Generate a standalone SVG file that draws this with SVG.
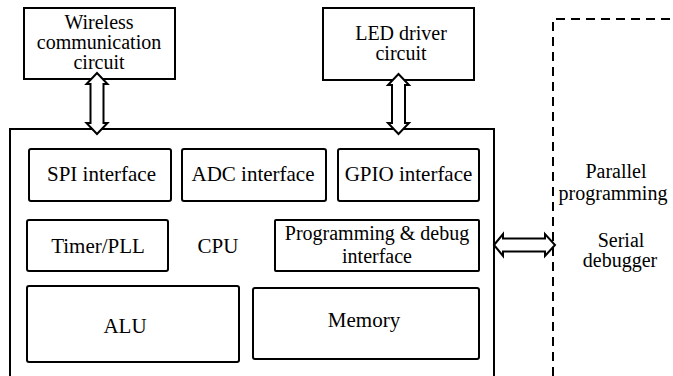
<svg xmlns="http://www.w3.org/2000/svg" width="673" height="376" viewBox="0 0 673 376">
  <style>
    .box { fill: #fff; stroke: #000; stroke-width: 2; }
    .inner { fill: #fff; stroke: #000; stroke-width: 2; }
    .txt { font-size: 21px; fill: #000; text-anchor: middle; }
    .ml { font-size: 20px; }
    .arrow { fill: #fff; stroke: #000; stroke-width: 2; stroke-linejoin: miter; }
    .dash { fill: none; stroke: #000; stroke-width: 2; stroke-dasharray: 9 6; }
  </style>
  <rect width="673" height="376" fill="#fff"/>

  <!-- external board boundary (dashed) -->
  <g id="programmer-boundary">
    <path class="dash" d="M553,376 L553,19 L673,19"/>
  </g>

  <g font-family="Liberation Serif, Times New Roman, Tinos, Noto Serif, DejaVu Serif, serif">
  <g id="cpu-chip">
    <rect class="box" x="10" y="129" width="484" height="260"/>
    <text class="txt" x="218" y="253">CPU</text>
  </g>

  <g id="wireless">
    <rect class="box" x="24" y="8" width="151" height="71"/>
    <text class="txt ml" x="99" y="29">Wireless</text>
    <text class="txt ml" x="99" y="49">communication</text>
    <text class="txt ml" x="99" y="69">circuit</text>
  </g>

  <g id="led-driver">
    <rect class="box" x="323" y="8" width="151" height="72"/>
    <text class="txt ml" x="401" y="39.5">LED driver</text>
    <text class="txt ml" x="401" y="59.5">circuit</text>
  </g>

  <g id="spi">
    <rect class="inner" x="29" y="149" width="142" height="52" rx="2"/>
    <text class="txt" x="101.5" y="181">SPI interface</text>
  </g>

  <g id="adc">
    <rect class="inner" x="182" y="149" width="144" height="52" rx="2"/>
    <text class="txt" x="253" y="181">ADC interface</text>
  </g>

  <g id="gpio">
    <rect class="inner" x="338" y="149" width="141" height="52" rx="2"/>
    <text class="txt" x="408.5" y="181">GPIO interface</text>
  </g>

  <g id="timer-pll">
    <rect class="inner" x="27" y="220" width="141" height="51" rx="2"/>
    <text class="txt" x="98" y="253">Timer/PLL</text>
  </g>

  <g id="prog-debug">
    <rect class="inner" x="275" y="220" width="204" height="51" rx="1"/>
    <text class="txt ml" x="377" y="240">Programming &amp; debug</text>
    <text class="txt ml" x="377" y="263">interface</text>
  </g>

  <g id="alu">
    <rect class="inner" x="27" y="286" width="212" height="76" rx="2"/>
    <text class="txt" x="125" y="333">ALU</text>
  </g>

  <g id="memory">
    <rect class="inner" x="253" y="288" width="226" height="71" rx="2"/>
    <text class="txt" x="364" y="327">Memory</text>
  </g>

  <g id="programmer-labels">
    <text class="txt ml" x="616" y="178">Parallel</text>
    <text class="txt ml" x="613" y="200">programming</text>
    <text class="txt ml" x="621" y="246.5">Serial</text>
    <text class="txt ml" x="620" y="266.5">debugger</text>
  </g>
  </g>

  <!-- bidirectional bus arrows -->
  <g id="connectors">
    <path class="arrow" d="M97,73 L107.5,84 L103.5,84 L103.5,123 L107.5,123 L97,134 L86.5,123 L90.5,123 L90.5,84 L86.5,84 Z"/>
    <path class="arrow" d="M398.5,74 L409,85 L405,85 L405,123 L409,123 L398.5,134 L388,123 L392,123 L392,85 L388,85 Z"/>
    <path class="arrow" d="M494,245 L503,234 L503,238.5 L545,238.5 L545,234 L555,245 L545,256 L545,251.5 L503,251.5 L503,256 Z"/>
  </g>
</svg>
